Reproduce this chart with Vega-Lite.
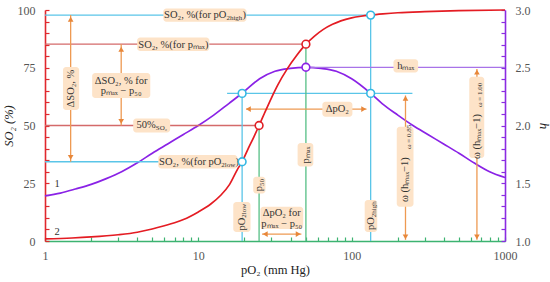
{
  "$schema": "https://vega.github.io/schema/vega-lite/v6.json",
  "width": 460,
  "height": 231,
  "autosize": "none",
  "padding": {"left": 45, "top": 10, "right": 45, "bottom": 41},
  "background": "white",
  "config": {
    "view": {"stroke": null},
    "font": "Liberation Serif",
    "axis": {"grid": false, "labelFont": "Liberation Serif", "titleFont": "Liberation Serif"},
    "axisX": {
      "values": [1, 2, 3, 4, 5, 6, 7, 8, 9, 10, 20, 30, 40, 50, 60, 70, 80, 90, 100, 200, 300, 400, 500, 600, 700, 800, 900, 1000],
      "labelExpr": "(datum.value == 1 || datum.value == 10 || datum.value == 100 || datum.value == 1000) ? format(datum.value, 'd') : ''",
      "labelFlush": false, "labelOverlap": false,
      "tickSize": -4, "tickColor": "#3cb371", "tickWidth": 1.2,
      "domainColor": "#3cb371", "domainWidth": 1.6,
      "labelPadding": 13, "labelFontSize": 12, "labelColor": "#555",
      "titleFontSize": 12.5, "titleFontWeight": "normal", "titleColor": "#222", "titlePadding": 2
    }
  },
  "datasets": {
    "hill": [
      {"p": 1.0, "h": 1.39}, {"p": 1.26, "h": 1.415}, {"p": 1.58, "h": 1.45}, {"p": 2.0, "h": 1.49},
      {"p": 2.51, "h": 1.54}, {"p": 3.16, "h": 1.6}, {"p": 3.98, "h": 1.675}, {"p": 5.01, "h": 1.76},
      {"p": 6.31, "h": 1.84}, {"p": 7.94, "h": 1.92}, {"p": 10.0, "h": 2.0}, {"p": 12.6, "h": 2.09},
      {"p": 15.8, "h": 2.19}, {"p": 19.3, "h": 2.279}, {"p": 25.1, "h": 2.405}, {"p": 31.6, "h": 2.47},
      {"p": 39.8, "h": 2.495}, {"p": 50.1, "h": 2.504}, {"p": 63.1, "h": 2.495}, {"p": 79.4, "h": 2.47},
      {"p": 100, "h": 2.405}, {"p": 133, "h": 2.279}, {"p": 158, "h": 2.19}, {"p": 200, "h": 2.09},
      {"p": 251, "h": 2.0}, {"p": 316, "h": 1.92}, {"p": 398, "h": 1.84}, {"p": 501, "h": 1.76},
      {"p": 631, "h": 1.675}, {"p": 794, "h": 1.6}, {"p": 1000, "h": 1.55}
    ],
    "sat": [
      {"p": 1, "so2": 0.9}, {"p": 1.5, "so2": 1.3}, {"p": 2, "so2": 1.75}, {"p": 3, "so2": 2.7},
      {"p": 4, "so2": 3.8}, {"p": 5, "so2": 5.2}, {"p": 6, "so2": 6.6}, {"p": 7, "so2": 7.9},
      {"p": 8, "so2": 9.3}, {"p": 10, "so2": 12.6}, {"p": 12, "so2": 15.9}, {"p": 14, "so2": 19.8},
      {"p": 16, "so2": 24.5}, {"p": 18, "so2": 31.0}, {"p": 19.3, "so2": 34.3}, {"p": 21, "so2": 39.6},
      {"p": 23, "so2": 45.0}, {"p": 24.9, "so2": 50.0}, {"p": 27, "so2": 55.3}, {"p": 30, "so2": 62.0},
      {"p": 33, "so2": 67.6}, {"p": 38, "so2": 74.5}, {"p": 44, "so2": 80.5}, {"p": 50.3, "so2": 85.2},
      {"p": 57, "so2": 88.6}, {"p": 65, "so2": 91.5}, {"p": 75, "so2": 93.8}, {"p": 85, "so2": 95.3},
      {"p": 100, "so2": 96.6}, {"p": 115, "so2": 97.3}, {"p": 133, "so2": 97.8}, {"p": 160, "so2": 98.3},
      {"p": 200, "so2": 98.8}, {"p": 300, "so2": 99.3}, {"p": 500, "so2": 99.7}, {"p": 1000, "so2": 100}
    ],
    "lines": [
      {"p": 1, "p_end": 133, "so2": 97.8, "so2_end": 97.8, "kind": "pO2 bounds"},
      {"p": 1, "p_end": 50.3, "so2": 85.2, "so2_end": 85.2, "kind": "SO2 marks"},
      {"p": 1, "p_end": 24.9, "so2": 50, "so2_end": 50, "kind": "SO2 marks"},
      {"p": 1, "p_end": 19.3, "so2": 34.3, "so2_end": 34.3, "kind": "pO2 bounds"},
      {"p": 19.3, "p_end": 19.3, "so2": 0, "so2_end": 63.9, "kind": "pO2 bounds"},
      {"p": 133, "p_end": 133, "so2": 0, "so2_end": 97.8, "kind": "pO2 bounds"},
      {"p": 15.4, "p_end": 249, "so2": 63.9, "so2_end": 63.9, "kind": "pO2 bounds"},
      {"p": 24.9, "p_end": 24.9, "so2": 0, "so2_end": 50, "kind": "p marks"},
      {"p": 50.3, "p_end": 50.3, "so2": 0, "so2_end": 85.2, "kind": "p marks"},
      {"p": 50.3, "p_end": 1000, "so2": 75.2, "so2_end": 75.2, "kind": "h max"},
      {"p": 1.47, "p_end": 1.47, "so2": 97.8, "so2_end": 34.3, "kind": "span"},
      {"p": 3.14, "p_end": 3.14, "so2": 85.2, "so2_end": 50, "kind": "span"},
      {"p": 20.5, "p_end": 125, "so2": 57.1, "so2_end": 57.1, "kind": "span"},
      {"p": 26, "p_end": 47, "so2": 3.0, "so2_end": 3.0, "kind": "span"},
      {"p": 224.4, "p_end": 224.4, "so2": 0.5, "so2_end": 63.0, "kind": "span"},
      {"p": 656, "p_end": 656, "so2": 0.5, "so2_end": 74.5, "kind": "span"}
    ],
    "heads": [
      {"p": 1.47, "so2": 96.0, "direction": "up"}, {"p": 1.47, "so2": 36.2, "direction": "down"},
      {"p": 3.14, "so2": 83.0, "direction": "up"}, {"p": 3.14, "so2": 51.8, "direction": "down"},
      {"p": 21.2, "so2": 57.1, "direction": "left"}, {"p": 119.8, "so2": 57.1, "direction": "right"},
      {"p": 27.3, "so2": 3.0, "direction": "left"}, {"p": 44.8, "so2": 3.0, "direction": "right"},
      {"p": 224.4, "so2": 61.8, "direction": "up"}, {"p": 224.4, "so2": 1.8, "direction": "down"},
      {"p": 656, "so2": 73.1, "direction": "up"}, {"p": 656, "so2": 1.8, "direction": "down"}
    ],
    "boxes": [
      {"p": 5.91, "p_end": 20.6, "so2": 100.7, "so2_end": 94.9},
      {"p": 3.99, "p_end": 11.8, "so2": 88.1, "so2_end": 82.3},
      {"p": 2.03, "p_end": 4.86, "so2": 72.7, "so2_end": 61.9},
      {"p": 1.31, "p_end": 1.67, "so2": 75.3, "so2_end": 56.7},
      {"p": 3.76, "p_end": 6.55, "so2": 53.0, "so2_end": 47.0},
      {"p": 5.48, "p_end": 17.98, "so2": 37.2, "so2_end": 31.4},
      {"p": 16.9, "p_end": 21.9, "so2": 16.9, "so2_end": 3.9},
      {"p": 22.8, "p_end": 27.4, "so2": 27.8, "so2_end": 20.6},
      {"p": 44.4, "p_end": 56.2, "so2": 42.4, "so2_end": 32.2},
      {"p": 25.4, "p_end": 48.3, "so2": 14.8, "so2_end": 5.2},
      {"p": 121.6, "p_end": 146.8, "so2": 17.7, "so2_end": 3.9},
      {"p": 64.4, "p_end": 101.1, "so2": 60.3, "so2_end": 53.8},
      {"p": 187.3, "p_end": 271.3, "so2": 78.7, "so2_end": 72.9},
      {"p": 196.8, "p_end": 253.1, "so2": 49.5, "so2_end": 14.8},
      {"p": 584.6, "p_end": 732.2, "so2": 71.1, "so2_end": 35.9}
    ],
    "circles": [
      {"p": 19.3, "so2": 34.3, "kind": "pO2 bounds"},
      {"p": 19.3, "so2": 63.9, "kind": "pO2 bounds"},
      {"p": 133, "so2": 97.8, "kind": "pO2 bounds"},
      {"p": 133, "so2": 63.9, "kind": "pO2 bounds"},
      {"p": 24.9, "so2": 50, "kind": "SO2 curve"},
      {"p": 50.3, "so2": 85.2, "kind": "SO2 curve"},
      {"p": 50.3, "so2": 75.2, "kind": "h curve"}
    ],
    "labels": [
      {"p": 3.14, "so2": 69.26, "text": "ΔSO₂, % for"},
      {"p": 3.14, "so2": 64.72, "text": "pₘₐₓ − p₅₀"},
      {"p": 6.87, "so2": 85.06, "text": "SO₂, %(for pₘₐₓ)"},
      {"p": 35.03, "so2": 12.25, "text": "ΔpO₂ for"},
      {"p": 35.03, "so2": 7.23, "text": "pₘₐₓ − p₅₀"},
      {"p": 80.6, "so2": 57.14, "text": "ΔpO₂"},
      {"p": 225.4, "so2": 75.76, "text": "hₘₐₓ"},
      {"p": 1.198, "so2": 24.7, "text": "1"},
      {"p": 1.198, "so2": 3.9, "text": "2"}
    ],
    "labels_lead": [
      {"p": 15.24, "so2": 97.84, "text": "SO₂, %(for pO"},
      {"p": 5.275, "so2": 50.2, "text": "50%"},
      {"p": 14.13, "so2": 34.2, "text": "SO₂, %(for pO"}
    ],
    "labels_tail": [
      {"p": 19.4, "so2": 97.84, "text": ")"},
      {"p": 17.45, "so2": 34.2, "text": ")"}
    ],
    "subs": [
      {"p": 15.24, "so2": 96.75, "text": "2high"},
      {"p": 5.275, "so2": 49.13, "text": "SO₂"},
      {"p": 14.13, "so2": 33.1, "text": "2low"}
    ],
    "rot_center": [
      {"p": 1.479, "so2": 66.0, "text": "ΔSO₂, %"},
      {"p": 25.04, "so2": 24.24, "text": "p₅₀"},
      {"p": 50.05, "so2": 37.23, "text": "pₘₐₓ"}
    ],
    "rot_lead": [
      {"p": 19.24, "so2": 10.09, "text": "pO"},
      {"p": 134.1, "so2": 10.3, "text": "pO"}
    ],
    "rot_start": [
      {"p": 223.7, "so2": 16.88, "text": "ω (hₘₐₓ−1)"},
      {"p": 656, "so2": 35.5, "text": "ω (hₘₐₓ−1)"}
    ],
    "rot_subs": [
      {"p": 19.98, "so2": 10.09, "text": "2low"},
      {"p": 139.3, "so2": 10.3, "text": "2high"},
      {"p": 235.8, "so2": 39.83, "text": "ω = 0.85"},
      {"p": 691.6, "so2": 58.0, "text": "ω = 1.00"}
    ]
  },
  "layer": [
    {
      "data": {"name": "hill"},
      "mark": {"type": "line", "color": "#8a22e6", "strokeWidth": 1.7, "interpolate": "monotone"},
      "encoding": {
        "x": {"field": "p", "type": "quantitative", "scale": {"type": "log", "domain": [1, 1000]},
              "axis": {"title": "pO₂ (mm Hg)"}},
        "y": {
          "field": "h", "type": "quantitative",
          "scale": {"domain": [1, 3], "nice": false, "zero": false},
          "axis": {
            "orient": "right",
            "values": [1.0, 1.1, 1.2, 1.3, 1.4, 1.5, 1.6, 1.7, 1.8, 1.9, 2.0, 2.1, 2.2, 2.3, 2.4, 2.5, 2.6, 2.7, 2.8, 2.9, 3.0],
            "labelExpr": "abs(datum.value * 2 - round(datum.value * 2)) < 0.001 ? format(datum.value, '.1f') : ''",
            "tickSize": -4, "tickColor": "#8a2be2", "tickWidth": 1.2,
            "domainColor": "#8a2be2", "domainWidth": 1.6,
            "labelPadding": 14, "labelFontSize": 12, "labelColor": "#555",
            "title": "h", "titleFontSize": 13, "titleFontStyle": "italic", "titleFontWeight": "normal",
            "titleColor": "#222", "titlePadding": 6
          }
        }
      }
    },
    {
      "encoding": {
        "x": {"field": "p", "type": "quantitative", "scale": {"type": "log", "domain": [1, 1000]},
              "axis": {"title": "pO₂ (mm Hg)"}},
        "y": {
          "field": "so2", "type": "quantitative",
          "scale": {"domain": [0, 100], "nice": false, "zero": false},
          "axis": {
            "orient": "left",
            "values": [0, 5, 10, 15, 20, 25, 30, 35, 40, 45, 50, 55, 60, 65, 70, 75, 80, 85, 90, 95, 100],
            "labelExpr": "datum.value % 25 === 0 ? datum.label : ''",
            "tickSize": -4, "tickColor": "#e0282e", "tickWidth": 1.2,
            "domainColor": "#e0282e", "domainWidth": 1.6,
            "labelPadding": 14, "labelFontSize": 12, "labelColor": "#555",
            "title": "SO₂ (%)", "titleFontSize": 12.5, "titleFontStyle": "italic", "titleFontWeight": "normal",
            "titleColor": "#222", "titlePadding": 2
          }
        }
      },
      "layer": [
        {
          "data": {"name": "lines"},
          "mark": {"type": "rule", "strokeWidth": 1.3},
          "encoding": {
            "x2": {"field": "p_end"},
            "y2": {"field": "so2_end"},
            "color": {
              "field": "kind", "type": "nominal", "legend": null,
              "scale": {"domain": ["pO2 bounds", "SO2 marks", "p marks", "h max", "span"],
                        "range": ["#5ac5e8", "#d46a6a", "#55bf85", "#a873e8", "#ee9a52"]}
            }
          }
        },
        {
          "data": {"name": "heads"},
          "mark": {"type": "point", "filled": true, "size": 32, "color": "#e8873a", "opacity": 1},
          "encoding": {
            "shape": {
              "field": "direction", "type": "nominal", "legend": null,
              "scale": {"domain": ["up", "down", "left", "right"],
                        "range": ["triangle-up", "triangle-down", "triangle-left", "triangle-right"]}
            }
          }
        },
        {
          "data": {"name": "sat"},
          "mark": {"type": "line", "color": "#e41c23", "strokeWidth": 1.7, "interpolate": "monotone"}
        },
        {
          "data": {"name": "boxes"},
          "mark": {"type": "rect", "fill": "#fde3c8", "cornerRadius": 3},
          "encoding": {"x2": {"field": "p_end"}, "y2": {"field": "so2_end"}}
        },
        {
          "data": {"name": "labels"},
          "mark": {"type": "text", "fontSize": 10.5, "color": "#333", "align": "center", "baseline": "middle"},
          "encoding": {"text": {"field": "text"}}
        },
        {
          "data": {"name": "labels_lead"},
          "mark": {"type": "text", "fontSize": 10.5, "color": "#333", "align": "right", "baseline": "middle"},
          "encoding": {"text": {"field": "text"}}
        },
        {
          "data": {"name": "labels_tail"},
          "mark": {"type": "text", "fontSize": 10.5, "color": "#333", "align": "left", "baseline": "middle"},
          "encoding": {"text": {"field": "text"}}
        },
        {
          "data": {"name": "subs"},
          "mark": {"type": "text", "fontSize": 7, "color": "#333", "align": "left", "baseline": "middle"},
          "encoding": {"text": {"field": "text"}}
        },
        {
          "data": {"name": "rot_center"},
          "mark": {"type": "text", "fontSize": 10.5, "color": "#333", "align": "center", "baseline": "middle", "angle": 270},
          "encoding": {"text": {"field": "text"}}
        },
        {
          "data": {"name": "rot_lead"},
          "mark": {"type": "text", "fontSize": 10.5, "color": "#333", "align": "right", "baseline": "middle", "angle": 270},
          "encoding": {"text": {"field": "text"}}
        },
        {
          "data": {"name": "rot_start"},
          "mark": {"type": "text", "fontSize": 10.5, "color": "#333", "align": "left", "baseline": "middle", "angle": 270},
          "encoding": {"text": {"field": "text"}}
        },
        {
          "data": {"name": "rot_subs"},
          "mark": {"type": "text", "fontSize": 7, "color": "#333", "align": "left", "baseline": "middle", "angle": 270},
          "encoding": {"text": {"field": "text"}}
        },
        {
          "data": {"name": "circles"},
          "mark": {"type": "point", "filled": false, "fill": "white", "fillOpacity": 1, "size": 60, "strokeWidth": 1.6, "opacity": 1},
          "encoding": {
            "stroke": {
              "field": "kind", "type": "nominal", "legend": null,
              "scale": {"domain": ["pO2 bounds", "SO2 curve", "h curve"], "range": ["#35b8e4", "#e01f26", "#8a22e6"]}
            }
          }
        }
      ]
    }
  ],
  "resolve": {"scale": {"y": "independent"}}
}
